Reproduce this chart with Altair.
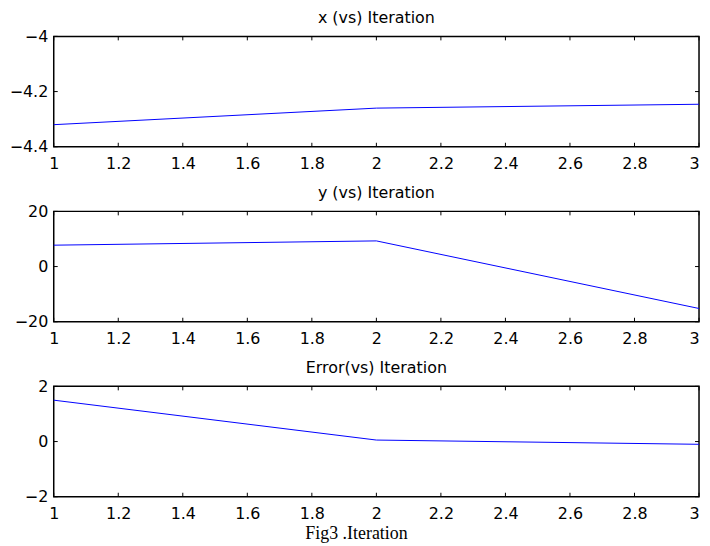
import altair as alt
import pandas as pd

iterations = [1, 2, 3]
x_values = [-4.32, -4.26, -4.246]
y_values = [7.75, 9.3, -15.2]
err_values = [1.5, 0.054, -0.1]

x_ticks = [1, 1.2, 1.4, 1.6, 1.8, 2, 2.2, 2.4, 2.6, 2.8, 3]
x_panel_ticks = [-4.4, -4.2, -4]
y_panel_ticks = [-20, 0, 20]
err_panel_ticks = [-2, 0, 2]

titles = ["x (vs) Iteration", "y (vs) Iteration", "Error(vs) Iteration"]
caption = "Fig3 .Iteration"

W, H = 649, 111
SANS = "DejaVu Sans"
TICK = 4


def panel(title, vals, yticks, last=False):
    df = pd.DataFrame({"Iteration": iterations, "value": vals})
    xscale = alt.Scale(domain=[x_ticks[0], x_ticks[-1]], nice=False, zero=False)
    yscale = alt.Scale(domain=[yticks[0], yticks[-1]], nice=False, zero=False)
    xaxis_kw = dict(
        values=x_ticks, format=".1~f", labelFlush=False, ticks=False, domain=False,
        grid=False, labelFont=SANS, labelFontSize=16, labelColor="black", labelPadding=9,
        labelAlign={"condition": {"test": f"datum.value == {x_ticks[-1]}", "value": "right"},
                    "value": "center"},
    )
    if last:
        xaxis_kw.update(
            title=caption, titleFont="Liberation Serif", titleFontSize=18,
            titleFontWeight="normal", titleColor="black", titleX=304, titlePadding=3,
        )
    else:
        xaxis_kw.update(title=None)
    xaxis = alt.Axis(**xaxis_kw)
    yaxis = alt.Axis(
        values=yticks, format=".1~f", ticks=False, domain=False, grid=False,
        labelFont=SANS, labelFontSize=16, labelColor="black", labelPadding=6,
        minExtent=43, title=None,
    )
    line = alt.Chart(df).mark_line(color="#0000ff", strokeWidth=1).encode(
        x=alt.X("Iteration:Q", scale=xscale, axis=xaxis),
        y=alt.Y("value:Q", scale=yscale, axis=yaxis),
    )
    xt = pd.DataFrame({"t": x_ticks})
    yt = pd.DataFrame({"t": yticks})
    rule = dict(color="black", strokeWidth=1)
    tick_top = alt.Chart(xt).mark_rule(**rule).encode(
        x=alt.X("t:Q", scale=xscale, axis=xaxis), y=alt.value(0), y2=alt.value(TICK))
    tick_bot = alt.Chart(xt).mark_rule(**rule).encode(
        x=alt.X("t:Q", scale=xscale, axis=xaxis), y=alt.value(H - TICK), y2=alt.value(H))
    tick_left = alt.Chart(yt).mark_rule(**rule).encode(
        y=alt.Y("t:Q", scale=yscale, axis=yaxis), x=alt.value(0), x2=alt.value(TICK))
    tick_right = alt.Chart(yt).mark_rule(**rule).encode(
        y=alt.Y("t:Q", scale=yscale, axis=yaxis), x=alt.value(W - TICK), x2=alt.value(W))
    return alt.layer(line, tick_top, tick_bot, tick_left, tick_right).properties(
        width=W, height=H,
        title=alt.TitleParams(text=title, font=SANS, fontSize=16, fontWeight="normal",
                              color="black", frame="group", anchor="middle", offset=2),
    )


chart = alt.vconcat(
    panel(titles[0], x_values, x_panel_ticks),
    panel(titles[1], y_values, y_panel_ticks),
    panel(titles[2], err_values, err_panel_ticks, last=True),
    spacing=12,
).configure_view(stroke="black", strokeWidth=1.5).properties(
    padding={"left": 0, "top": 0, "right": 0, "bottom": 0},
    background="white",
)

chart.save("out.html", embed_options={"renderer": "svg", "actions": False})
